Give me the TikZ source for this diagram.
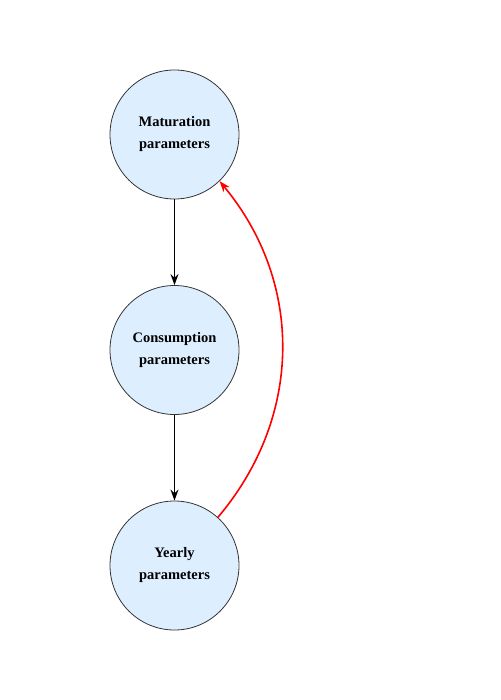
\documentclass[tikz,border=0pt]{standalone}
\usepackage{fontspec}
\setmainfont{Liberation Serif}
\usetikzlibrary{arrows.meta}
\definecolor{nodefill}{HTML}{DDEEFF}
\definecolor{nodeline}{HTML}{333333}
\begin{document}
\begin{tikzpicture}[x=1pt,y=1pt,
  param/.style={circle,draw=nodeline,line width=0.8pt,fill=nodefill,minimum size=129pt,inner sep=0pt,align=center,font=\fontsize{14.5}{22}\selectfont\bfseries},
  flow/.style={line width=1.5pt,-{Stealth[length=11pt,width=8pt]}},
  back/.style={red,line width=1.6pt,-{Stealth[length=11pt,width=8pt]}}]
\useasboundingbox (0,0) rectangle (500,-700);
\node[param] (mat) at (174.5,-134.5) {Maturation\\parameters};
\node[param] (con) at (174.5,-350) {Consumption\\parameters};
\node[param] (year) at (174.5,-565.5) {Yearly\\parameters};
\draw[flow] (mat) -- (con);
\draw[flow] (con) -- (year);
\draw[back] (year.48) to[bend right=40] (mat.-46);
\end{tikzpicture}
\end{document}
